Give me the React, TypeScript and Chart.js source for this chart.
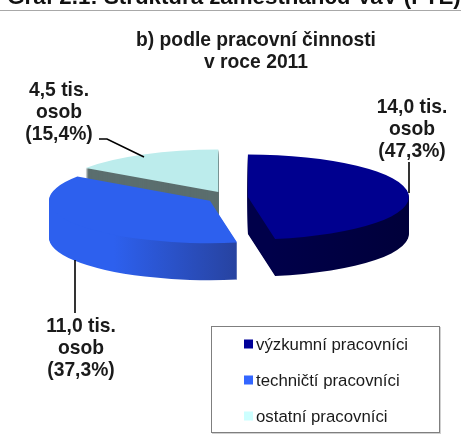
import React, { useEffect, useRef } from "react";
import { Chart, registerables } from "chart.js";

Chart.register(...registerables);

const categories = ["výzkumní pracovníci", "techničtí pracovníci", "ostatní pracovníci"];
const percentValues = [47.3, 37.3, 15.4];
const personLabels = ["14,0 tis.", "11,0 tis.", "4,5 tis."];
const percentLabels = ["(47,3%)", "(37,3%)", "(15,4%)"];
const pageHeading = "Graf 2.1: Struktura zaměstnanců VaV (FTE)";
const chartTitle = ["b) podle pracovní činnosti", "v roce 2011"];

const FONT = '"Liberation Sans", Arial, sans-serif';
const TEXT = "#1a1a1a";
const CX = 229;
const CY = 197.5;
const SQUASH = 0.264;
const DEPTH = 37;
const EXPLODE = [19, 22.6, 23];
const TOP_COLORS = ["#00008f", "#2d60ee", "#bcecec"];
const LEGEND_COLORS = ["#000099", "#3366ff", "#ccffff"];
const LABEL_X = [412, 81, 59];
const LABEL_Y = [108, 327, 91];

function squash(ctx: CanvasRenderingContext2D, dy: number) {
  ctx.translate(0, CY + dy);
  ctx.scale(1, SQUASH);
  ctx.translate(0, -CY);
}

const pie3d = {
  id: "pie3d",
  afterDatasetsUpdate(chart: any) {
    const arcs = chart.getDatasetMeta(0).data;
    arcs.forEach((arc: any, i: number) => {
      const mid = (arc.startAngle + arc.endAngle) / 2;
      arc.x = CX + Math.cos(mid) * EXPLODE[i];
      arc.y = CY + Math.sin(mid) * EXPLODE[i];
    });
  },
  beforeDatasetsDraw(chart: any) {
    const ctx: CanvasRenderingContext2D = chart.ctx;
    const arcs = chart.getDatasetMeta(0).data;
    const blueWall = ctx.createLinearGradient(30, 0, 240, 0);
    blueWall.addColorStop(0, "#2d60ee");
    blueWall.addColorStop(0.4, "#2d60ee");
    blueWall.addColorStop(1, "#27429e");
    const navyWall = ctx.createLinearGradient(270, 0, 410, 0);
    navyWall.addColorStop(0, "#00004a");
    navyWall.addColorStop(1, "#00003a");
    const walls = [navyWall, blueWall, "#5b6e6e"];
    [2, 0, 1].forEach((i) => {
      const arc = arcs[i];
      const original = arc.options;
      arc.options = { ...original, backgroundColor: walls[i], borderColor: walls[i] };
      for (let k = DEPTH; k >= 1; k--) {
        ctx.save();
        squash(ctx, k);
        arc.draw(ctx);
        ctx.restore();
      }
      arc.options = original;
    });
    ctx.save();
    squash(ctx, 0);
  },
  afterDatasetsDraw(chart: any) {
    const ctx: CanvasRenderingContext2D = chart.ctx;
    ctx.restore();

    // heading cut by the top of the page, with its rule
    ctx.save();
    ctx.fillStyle = "#111111";
    ctx.font = `bold 22.3px ${FONT}`;
    ctx.textAlign = "center";
    ctx.textBaseline = "alphabetic";
    ctx.fillText(pageHeading, 234, 4);
    ctx.fillStyle = "#a8a8a8";
    ctx.fillRect(0, 10, 461, 1);

    // leader lines
    ctx.strokeStyle = "#000000";
    ctx.lineWidth = 1.6;
    const leaders = [
      [[409, 162], [409, 193]],
      [[75, 260], [75, 313]],
      [[99, 139], [107, 139], [144, 157]],
    ];
    leaders.forEach((pts) => {
      ctx.beginPath();
      pts.forEach(([x, y], j) => (j ? ctx.lineTo(x, y) : ctx.moveTo(x, y)));
      ctx.stroke();
    });

    // data labels
    ctx.fillStyle = TEXT;
    ctx.font = `bold 19.3px ${FONT}`;
    ctx.textBaseline = "middle";
    ctx.textAlign = "center";
    categories.forEach((_, i) => {
      [personLabels[i], "osob", percentLabels[i]].forEach((line, j) => {
        ctx.fillText(line, LABEL_X[i], LABEL_Y[i] + j * 22);
      });
    });

    // legend
    ctx.fillStyle = "#d0d0d0";
    ctx.fillRect(440, 327, 1, 107);
    ctx.fillRect(212, 433, 229, 1);
    ctx.strokeStyle = "#7f7f7f";
    ctx.lineWidth = 1;
    ctx.strokeRect(211.5, 326.5, 228, 106);
    ctx.textAlign = "left";
    ctx.font = `16.8px ${FONT}`;
    categories.forEach((name, i) => {
      const y = 344 + i * 36;
      ctx.fillStyle = LEGEND_COLORS[i];
      ctx.fillRect(244, y - 4.5, 9, 9);
      ctx.fillStyle = TEXT;
      ctx.fillText(name, 256, y + 1);
    });
    ctx.restore();
  },
};

export default function App() {
  const ref = useRef<HTMLCanvasElement>(null);
  useEffect(() => {
    const chart = new Chart(ref.current as HTMLCanvasElement, {
      type: "pie",
      data: {
        labels: categories,
        datasets: [
          {
            data: percentValues,
            backgroundColor: TOP_COLORS,
            borderWidth: 0,
            clip: false,
          } as any,
        ],
      },
      options: {
        animation: false,
        responsive: false,
        radius: 161,
        rotation: 0,
        layout: { padding: { left: 51, top: 30 } },
        plugins: {
          legend: { display: false },
          tooltip: { enabled: false },
          title: {
            display: true,
            fullSize: false,
            text: chartTitle,
            color: TEXT,
            font: { family: FONT, size: 19.3, weight: "bold", lineHeight: 1.14 },
            padding: 0,
          },
        },
      } as any,
      plugins: [pie3d],
    });
    return () => chart.destroy();
  }, []);
  return (
    <canvas
      ref={ref}
      width={461}
      height={445}
      style={{ position: "fixed", left: 0, top: 0, width: 461, height: 445, background: "#fff" }}
    />
  );
}
